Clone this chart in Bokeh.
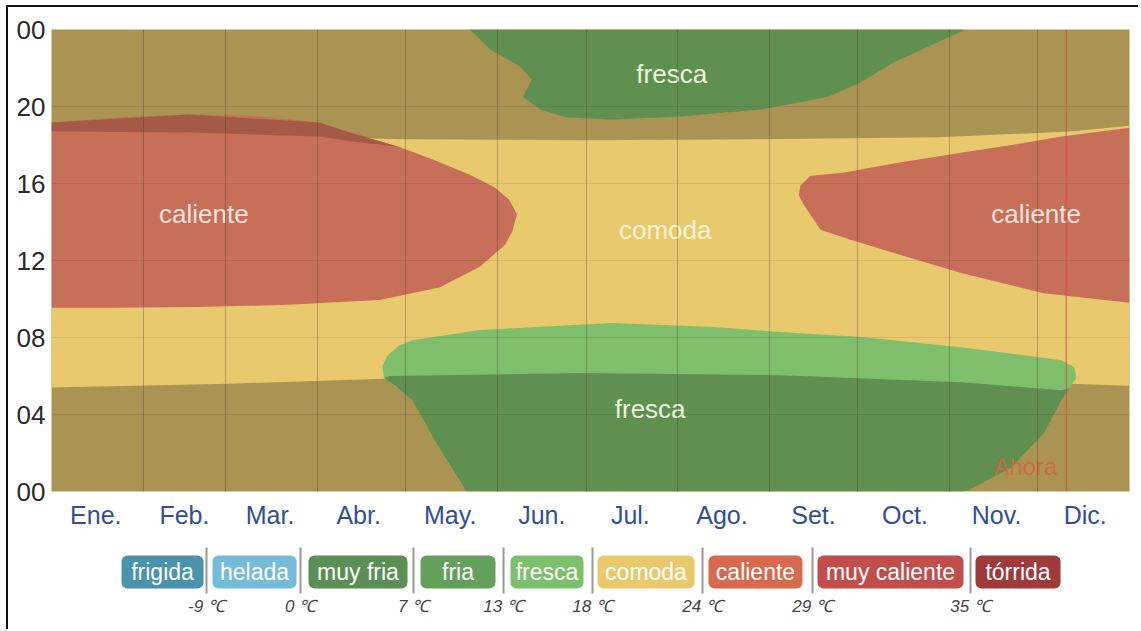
from bokeh.plotting import figure
from bokeh.models import Range1d, FixedTicker, Span, BoxAnnotation
from bokeh.layouts import column
from bokeh.embed import file_html
from bokeh.resources import INLINE
from bokeh.core.properties import value

FONT = "Liberation Sans"

# ---------------- data ----------------
month_labels = ["Ene.", "Feb.", "Mar.", "Abr.", "May.", "Jun.", "Jul.", "Ago.", "Set.", "Oct.", "Nov.", "Dic."]
month_mid_days = [15, 45, 74, 104, 135, 166, 196, 227, 258, 289, 320, 350]
month_start_days = [31, 59, 90, 120, 151, 181, 212, 243, 273, 304, 334]
hour_ticks = [0, 4, 8, 12, 16, 20, 24]
hour_labels = ["00", "04", "08", "12", "16", "20", "00"]

# comoda (yellow) band: lower / upper hour boundaries
comoda_day = [0, 60, 120, 180, 240, 300, 345, 365]
comoda_lo = [5.4, 5.6, 5.9, 6.0, 6.0, 5.8, 5.6, 5.5]
comoda_hi = [18.6, 18.5, 18.3, 18.25, 18.3, 18.4, 18.7, 19.0]

# caliente (left blob)
cal_left_day = [0, 25, 46.5, 70, 90.7, 101, 117.8, 130, 141.6, 150, 155, 157.6, 156, 153.5, 145, 131.4, 111, 80, 50, 20, 0]
cal_left_hour = [19.17, 19.45, 19.58, 19.5, 19.17, 18.65, 17.9, 17.2, 16.46, 15.8, 15.16, 14.4, 13.5, 12.8, 11.67, 10.6, 9.95, 9.7, 9.58, 9.55, 9.55]

# muy caliente strip on top of the left blob
mcal_day = [0, 46.5, 90.7, 101, 117.8, 101, 90.7, 46.5, 0]
mcal_hour = [19.17, 19.58, 19.17, 18.65, 17.9, 18.2, 18.44, 18.65, 18.7]

# caliente (right blob)
cal_right_day = [253.6, 257, 268, 287.6, 308, 325, 342, 365, 365, 336, 308, 285, 270, 260.4, 254.7, 253]
cal_right_hour = [15.9, 16.4, 16.56, 17.1, 17.6, 18.0, 18.44, 18.9, 9.8, 10.3, 11.35, 12.4, 13.1, 13.6, 14.9, 15.4]

# fresca (dark green, evening/night top)
top_green_day = [141.6, 148.4, 158.6, 162.6, 159.6, 165.4, 174.5, 190.2, 213, 240, 262.8, 274, 285.2, 296.8, 308, 309.7]
top_green_hour = [24, 22.97, 22.08, 21.4, 20.5, 19.84, 19.43, 19.32, 19.48, 19.84, 20.5, 21.25, 22.3, 23.1, 23.9, 24]

# light green band (morning)
light_green_day = [112.0, 113.8, 117.8, 122.2, 145, 190, 224, 246.9, 274, 308, 342, 346.3, 347, 344.6, 340, 120.5, 116, 112.5]
light_green_hour = [6.5, 7.08, 7.6, 7.86, 8.39, 8.75, 8.54, 8.28, 8.02, 7.5, 6.82, 6.46, 5.9, 5.36, 5.0, 5.0, 5.5, 5.95]

# dark green (early morning bottom)
low_green_day = [140.6, 130.4, 122.2, 116.1, 112.7, 114.4, 179, 247, 308, 342, 344.6, 342, 336, 325, 310.4, 308]
low_green_hour = [0, 2.5, 4.74, 5.52, 5.89, 6.0, 6.15, 6.04, 5.68, 5.26, 5.36, 4.74, 3.02, 1.25, 0.05, 0]

# region labels
label_text = ["fresca", "caliente", "comoda", "caliente", "fresca"]
label_day = [210, 51.6, 207.8, 333.4, 202.7]
label_hour = [21.67, 14.4, 13.6, 14.4, 4.3]
label_color = ["#eaf6dc", "#f8e2da", "#fff4d4", "#f8e2da", "#eaf6dc"]

now_day = 343.6
now_label = "Ahora"
now_hour = 1.3

# legend
legend_names = ["frigida", "helada", "muy fria", "fria", "fresca", "comoda", "caliente", "muy caliente", "tórrida"]
legend_colors = ["#4a93aa", "#74bcd8", "#5c8f55", "#64a05c", "#7dc06b", "#e9c96b", "#d9694c", "#c24e4c", "#a0393a"]
legend_temps = ["-9 ℃", "0 ℃", "7 ℃", "13 ℃", "18 ℃", "24 ℃", "29 ℃", "35 ℃"]

# layout (page pixel positions of legend items)
legend_left = [121, 212, 308, 420, 510, 597, 708, 817, 975]
legend_right = [203, 296, 407, 495, 583, 694, 802, 963, 1060]
legend_top, legend_bottom = 555, 588
sep_x = [206, 300, 413, 503, 592, 702, 812, 970]
FRAME_L, FRAME_R = 51, 1129   # page x of the plot frame edges
LEG_Y0, LEG_Y1 = 541, 629     # page y span of the legend strip

OLIVE = "#ab9354"
YELLOW = "#e9c96e"
RED = "#c86f5a"
DARKRED = "#a55a48"
DKGREEN = "#60904f"
LTGREEN = "#7fbf6c"

# ---------------- main chart ----------------
p = figure(width=1130, height=534, x_range=Range1d(0, 365), y_range=Range1d(0, 24),
           output_backend="svg", toolbar_location=None,
           min_border_left=43, min_border_right=9, min_border_top=22, min_border_bottom=50)
p.background_fill_color = OLIVE
p.border_fill_color = "white"
p.outline_line_color = None

p.varea(x=comoda_day, y1=comoda_lo, y2=comoda_hi, fill_color=YELLOW)
p.patch(cal_left_day, cal_left_hour, fill_color=RED, line_color=None)
p.patch(mcal_day, mcal_hour, fill_color=DARKRED, line_color=None)
p.patch(cal_right_day, cal_right_hour, fill_color=RED, line_color=None)
p.patch(top_green_day, top_green_hour, fill_color=DKGREEN, line_color=None)
p.patch(light_green_day, light_green_hour, fill_color=LTGREEN, line_color=None)
p.patch(low_green_day, low_green_hour, fill_color=DKGREEN, line_color=None)

p.text(x=label_day, y=label_hour, text=label_text, text_color=label_color,
       text_font=value(FONT), text_font_size="26px", text_align="center", text_baseline="middle")

p.add_layout(Span(location=now_day, dimension="height", line_color="#c8503c", line_alpha=0.6, line_width=1.5))
p.text(x=[now_day - 3], y=[now_hour], text=[now_label], text_color="#d8643c", text_alpha=0.85,
       text_font=value(FONT), text_font_size="24px", text_align="right", text_baseline="middle")

p.xaxis.ticker = FixedTicker(ticks=month_mid_days)
p.xaxis.major_label_overrides = {d: l for d, l in zip(month_mid_days, month_labels)}
p.yaxis.ticker = FixedTicker(ticks=hour_ticks)
p.yaxis.major_label_overrides = {h: l for h, l in zip(hour_ticks, hour_labels)}
for ax in (p.xaxis, p.yaxis):
    ax.axis_line_color = None
    ax.major_tick_line_color = None
    ax.minor_tick_line_color = None
    ax.major_tick_out = 0
    ax.major_tick_in = 0
    ax.minor_tick_out = 0
    ax.major_label_text_font = FONT
p.xaxis.major_label_standoff = 9
p.yaxis.major_label_standoff = 6
p.xaxis.major_label_text_color = "#2f4f9a"
p.xaxis.major_label_text_font_size = "25px"
p.yaxis.major_label_text_color = "#2b2b2b"
p.yaxis.major_label_text_font_size = "26px"

p.xgrid.ticker = FixedTicker(ticks=month_start_days)
p.xgrid.grid_line_color = "#3c2f1a"
p.xgrid.grid_line_alpha = 0.3
p.xgrid.level = "annotation"
p.ygrid.ticker = FixedTicker(ticks=[4, 8, 12, 16, 20])
p.ygrid.grid_line_color = "#3c2f1a"
p.ygrid.grid_line_alpha = 0.12
p.ygrid.level = "annotation"

# ---------------- legend strip (ranges in page pixels, frame aligned with main frame) ----------------
lg = figure(width=1130, height=LEG_Y1 - LEG_Y0, x_range=Range1d(FRAME_L, FRAME_R),
            y_range=Range1d(LEG_Y1, LEG_Y0),
            output_backend="svg", toolbar_location=None, x_axis_type=None, y_axis_type=None,
            min_border_left=43, min_border_right=9, min_border_top=0, min_border_bottom=0)
lg.outline_line_color = None
lg.grid.visible = False
lg.background_fill_color = "white"

for col, lx, rx in zip(legend_colors, legend_left, legend_right):
    lg.add_layout(BoxAnnotation(left=lx, right=rx, top=legend_top, bottom=legend_bottom,
                                fill_color=col, fill_alpha=1.0, line_color=None,
                                border_radius=6, level="underlay"))

name_x = [(l + r) / 2 for l, r in zip(legend_left, legend_right)]
name_y = [(legend_top + legend_bottom) / 2] * len(name_x)
lg.text(x=name_x, y=name_y, text=legend_names, text_color="white", text_font=value(FONT),
        text_font_size="23px", text_align="center", text_baseline="middle")

lg.segment(x0=sep_x, y0=[547] * len(sep_x), x1=sep_x, y1=[593] * len(sep_x),
           line_color="#9a9a9a", line_width=2)
lg.text(x=sep_x, y=[606] * len(sep_x), text=legend_temps, text_color="#444444", text_font=value(FONT),
        text_font_style="italic", text_font_size="17px", text_align="center", text_baseline="middle")

layout = column(p, lg, styles={"border-top": "2px solid #111", "border-left": "2px solid #111",
                               "margin-left": "6px", "margin-top": "5px"})

open("out.html", "w").write(file_html(layout, INLINE))
